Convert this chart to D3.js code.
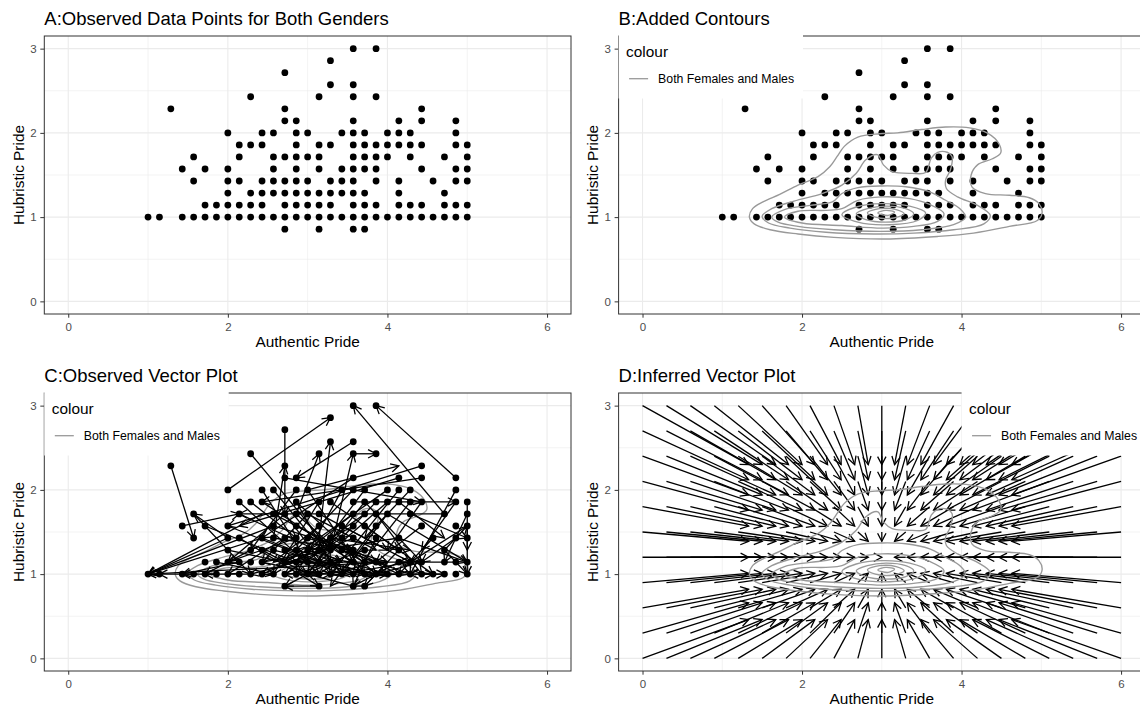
<!DOCTYPE html>
<html lang="en">
<head>
<meta charset="UTF-8">
<title>Authentic and Hubristic Pride - vector plots</title>
<script src="https://d3js.org/d3.v7.min.js"></script>
<style>
  body { margin: 0; background: #fff; }
  svg { display: block; font-family: "Liberation Sans", Arial, sans-serif; }
  .tick text { fill: #4d4d4d; font-size: 11.5px; }
  .tick line { stroke: #333; }
</style>
</head>
<body>
<div id="chart"></div>
<script>
const xTicks = [0, 2, 4, 6], xMinor = [1, 3, 5];
const yTicks = [0, 1, 2, 3], yMinor = [0.5, 1.5, 2.5];
const xLimits = [-0.3, 6.3], yLimits = [-0.15, 3.15];

// observed scores, in sevenths (7-item means): [hubristic, [authentic, ...]]
const pointRows = [
  [21, [25, 27]],
  [20, [23]],
  [19, [19]],
  [18, [23, 25]],
  [17, [16, 22, 25, 27]],
  [16, [9, 19, 31]],
  [15, [19, 20, 25, 29, 31, 34]],
  [14, [14, 17, 18, 20, 21, 24, 25, 26, 28, 29, 30, 34]],
  [13, [15, 16, 17, 20, 22, 23, 25, 26, 27, 28, 29, 30, 31, 34, 35]],
  [12, [11, 15, 18, 19, 20, 21, 22, 25, 26, 27, 28, 30, 33, 35]],
  [11, [10, 12, 14, 18, 20, 22, 24, 25, 26, 27, 31, 34, 35]],
  [10, [11, 14, 15, 17, 18, 19, 20, 21, 23, 24, 25, 27, 29, 32, 34, 35]],
  [9, [14, 16, 17, 18, 19, 20, 21, 22, 23, 24, 25, 26, 29, 33]],
  [8, [12, 13, 14, 15, 16, 17, 19, 20, 21, 22, 23, 25, 26, 27, 29, 30, 31, 33, 34, 35]],
  [7, [7, 8, 10, 11, 12, 13, 14, 15, 16, 17, 18, 19, 20, 21, 22, 23, 24, 25, 26, 27, 28, 29, 30, 31, 32, 33, 34, 35]],
  [6, [19, 22, 25, 26]]
];

// observed change between the two waves, sevenths: [x from, y from, x to, y to]
const moves = [
  [9,16,11,10], [14,14,23,20], [19,19,19,12], [16,17,23,9], [25,18,20,15], [25,17,27,17],
  [34,15,27,21], [33,12,25,21], [20,12,22,17], [23,9,25,17], [33,12,15,12], [31,16,14,11],
  [31,15,17,13], [14,10,7,7], [18,11,7,7], [28,8,7,7], [17,12,7,7], [14,10,11,12],
  [10,11,15,12], [34,14,30,7], [35,13,35,7], [35,11,35,9], [25,13,34,13], [19,15,31,13],
  [18,10,19,16], [25,15,17,10], [29,15,15,11], [34,13,31,9], [35,12,33,8], [33,9,35,11],
  [22,10,23,18], [21,14,29,16], [17,10,7,7],
  [17,14,21,8], [18,14,24,7], [20,14,16,9], [21,14,26,7], [24,14,20,7], [26,14,22,9],
  [28,14,19,8], [29,14,23,7], [30,14,26,10], [25,14,20,9],
  [15,13,22,7], [16,13,20,10], [17,13,25,8], [20,13,27,7], [22,13,18,7], [23,13,29,9],
  [26,13,21,7], [27,13,24,10], [28,13,22,8], [29,13,33,10], [30,13,25,7], [31,13,28,9],
  [20,13,23,8], [26,13,31,8],
  [11,12,16,7], [18,12,26,8], [19,12,23,7], [21,12,17,8], [22,12,30,8], [26,12,20,8],
  [27,12,31,7], [28,12,24,7], [30,12,35,10], [20,12,26,7], [25,12,21,9], [15,12,24,8],
  [19,12,14,8], [28,12,35,8], [21,12,27,9],
  [12,11,20,8], [20,11,29,7], [22,11,18,8], [24,11,21,7], [26,11,32,7], [27,11,23,6],
  [31,11,27,8], [35,11,30,8], [18,11,25,9], [25,11,19,8], [14,11,22,8], [24,11,28,9],
  [15,10,22,6], [17,10,25,7], [19,10,14,7], [21,10,28,8], [24,10,19,7], [27,10,25,6],
  [29,10,35,8], [32,10,29,7], [34,10,31,8], [18,10,25,9], [20,10,14,8], [23,10,27,8],
  [25,10,20,8], [23,10,30,9], [29,10,22,9],
  [16,9,12,7], [18,9,27,7], [20,9,24,8], [22,9,17,7], [24,9,30,7], [26,9,20,7],
  [29,9,26,6], [33,9,35,7], [19,9,24,7], [21,9,28,7], [23,9,17,8], [25,9,22,7],
  [17,9,21,7], [14,9,19,8],
  [13,8,18,7], [15,8,10,7], [17,8,22,7], [19,8,25,8], [21,8,26,7], [23,8,19,6],
  [26,8,30,8], [30,8,24,7], [34,8,29,8], [27,8,23,7], [20,8,16,7], [22,8,27,7],
  [29,8,25,6], [31,8,27,7],
  [11,7,8,7], [13,7,10,7], [16,7,12,7], [20,7,23,7], [22,7,19,7], [25,7,28,7],
  [27,7,32,7], [29,7,26,7], [31,7,33,7], [33,7,30,7],
  [22,6,19,6], [25,6,21,7], [26,6,28,8]
];

// inferred vector field: arrow starts on the grid, heads read per column / per row
const gridX = [0, 0.3, 0.6, 0.9, 1.2, 1.5, 1.8, 2.1, 2.4, 2.7, 3, 3.3, 3.6, 3.9, 4.2, 4.5, 4.8, 5.1, 5.4, 5.7, 6];
const headX = [1.33, 1.5, 1.67, 1.83, 2.0, 2.16, 2.32, 2.49, 2.66, 2.83, 3.0, 3.16, 3.32, 3.49, 3.65, 3.81, 3.98, 4.14, 4.31, 4.47, 4.63];
const gridY = [3, 2.7, 2.4, 2.1, 1.8, 1.5, 1.2, 0.9, 0.6, 0.3, 0];
const headY = [2.3, 2.12, 1.94, 1.76, 1.57, 1.39, 1.2, 1.01, 0.82, 0.66, 0.46];

// density contours (both females and males), traced
const densityContours = [
  [[1.34,1.0],[1.38,1.1],[1.51,1.18],[1.72,1.27],[1.95,1.38],[2.2,1.48],[2.35,1.6],[2.44,1.72],[2.53,1.84],
   [2.7,1.95],[2.97,1.99],[3.2,2.0],[3.5,2.04],[3.8,2.07],[4.1,2.06],[4.32,2.0],[4.47,1.87],[4.49,1.76],
   [4.38,1.69],[4.2,1.62],[4.12,1.5],[4.13,1.36],[4.3,1.28],[4.6,1.26],[4.85,1.23],[4.97,1.16],[5.01,1.05],
   [4.95,0.96],[4.6,0.89],[4.15,0.81],[3.7,0.77],[3.05,0.74],[2.4,0.76],[1.95,0.8],[1.6,0.85],[1.4,0.92]],
  [[1.5,1.01],[1.62,1.1],[1.9,1.19],[2.25,1.28],[2.5,1.38],[2.68,1.52],[2.8,1.68],[2.95,1.74],[3.02,1.62],
   [3.13,1.54],[3.38,1.52],[3.55,1.53],[3.62,1.7],[3.7,1.77],[3.82,1.77],[3.88,1.72],[3.86,1.56],[3.8,1.44],
   [3.81,1.34],[3.95,1.24],[4.2,1.14],[4.36,1.02],[4.28,0.92],[3.9,0.85],[3.4,0.81],[2.9,0.8],[2.3,0.82],
   [1.85,0.87],[1.58,0.93]],
  [[1.62,1.0],[1.78,1.09],[2.1,1.14],[2.38,1.18],[2.5,1.28],[2.7,1.35],[3.0,1.37],[3.3,1.36],[3.6,1.3],
   [3.8,1.2],[3.98,1.1],[4.05,1.0],[3.9,0.91],[3.5,0.85],[3.0,0.83],[2.4,0.85],[1.95,0.89],[1.7,0.94]],
  [[1.78,1.0],[1.95,1.07],[2.3,1.08],[2.5,1.1],[2.7,1.2],[3.0,1.24],[3.35,1.22],[3.6,1.15],[3.78,1.04],
   [3.7,0.95],[3.4,0.89],[3.0,0.87],[2.5,0.9],[2.0,0.93]],
  [[2.5,1.03],[2.68,1.12],[3.0,1.16],[3.35,1.13],[3.55,1.05],[3.45,0.96],[3.1,0.91],[2.7,0.94]],
  [[2.68,1.04],[2.82,1.1],[3.05,1.13],[3.3,1.1],[3.4,1.04],[3.3,0.97],[3.05,0.94],[2.8,0.97]],
  [[2.82,1.05],[2.97,1.1],[3.18,1.09],[3.28,1.04],[3.15,0.99],[2.92,1.0]],
  [[2.95,1.05],[3.05,1.08],[3.16,1.06],[3.08,1.02]]
];

const legendLabel = "Both Females and Males";
const contourColour = "#999999";

const points = pointRows.flatMap(([y7, xs]) => xs.map(x7 => [x7 / 7, y7 / 7]));

const columns = [[44.3, 571], [618.6, 1145]];
const rowsPx = [[36, 314], [393, 671]];

const svg = d3.select("#chart").append("svg")
    .attr("width", 1140)
    .attr("height", 712);

const defs = svg.append("defs");
defs.append("marker")
    .attr("id", "head")
    .attr("viewBox", "-10 -6 12 12")
    .attr("refX", 0).attr("refY", 0)
    .attr("markerWidth", 12).attr("markerHeight", 12)
    .attr("markerUnits", "userSpaceOnUse")
    .attr("orient", "auto")
  .append("path")
    .attr("d", "M-8,-4.2L0,0L-8,4.2")
    .attr("fill", "none")
    .attr("stroke", "#000")
    .attr("stroke-width", 1.3);

function drawPanel(col, row, title) {
    const [x0, x1] = columns[col], [y0, y1] = rowsPx[row];
    const x = d3.scaleLinear().domain(xLimits).range([x0, x1]);
    const y = d3.scaleLinear().domain(yLimits).range([y1, y0]);
    const g = svg.append("g");

    g.append("text")
        .attr("x", x0).attr("y", y0 - 11)
        .attr("font-size", 18.5)
        .text(title);

    const grid = g.append("g").attr("stroke", "#ebebeb");
    grid.selectAll(".xm").data(xMinor).join("line")
        .attr("x1", d => x(d)).attr("x2", d => x(d)).attr("y1", y0).attr("y2", y1)
        .attr("stroke-width", 0.6);
    grid.selectAll(".ym").data(yMinor).join("line")
        .attr("y1", d => y(d)).attr("y2", d => y(d)).attr("x1", x0).attr("x2", x1)
        .attr("stroke-width", 0.6);
    grid.selectAll(".xM").data(xTicks).join("line")
        .attr("x1", d => x(d)).attr("x2", d => x(d)).attr("y1", y0).attr("y2", y1)
        .attr("stroke-width", 1.1);
    grid.selectAll(".yM").data(yTicks).join("line")
        .attr("y1", d => y(d)).attr("y2", d => y(d)).attr("x1", x0).attr("x2", x1)
        .attr("stroke-width", 1.1);

    const marks = g.append("g");

    g.append("rect")
        .attr("x", x0).attr("y", y0)
        .attr("width", x1 - x0).attr("height", y1 - y0)
        .attr("fill", "none")
        .attr("stroke", "#333")
        .attr("stroke-width", 1);

    const ax = g.append("g")
        .attr("transform", `translate(0,${y1})`)
        .call(d3.axisBottom(x).tickValues(xTicks).tickSize(3.7).tickPadding(5).tickFormat(d3.format("d")));
    ax.select(".domain").remove();
    const ay = g.append("g")
        .attr("transform", `translate(${x0},0)`)
        .call(d3.axisLeft(y).tickValues(yTicks).tickSize(4).tickPadding(3.6).tickFormat(d3.format("d")));
    ay.select(".domain").remove();
    g.selectAll(".tick text").attr("font-family", null).attr("font-size", null);

    g.append("text")
        .attr("x", (x0 + x1) / 2).attr("y", y1 + 33)
        .attr("text-anchor", "middle")
        .attr("font-size", 15.4)
        .text("Authentic Pride");
    g.append("text")
        .attr("transform", `translate(${x0 - 20.3},${(y0 + y1) / 2}) rotate(-90)`)
        .attr("text-anchor", "middle")
        .attr("font-size", 15.4)
        .text("Hubristic Pride");

    return { marks, x, y };
}

function drawPoints(p) {
    p.marks.append("g").selectAll("circle").data(points).join("circle")
        .attr("cx", d => p.x(d[0]))
        .attr("cy", d => p.y(d[1]))
        .attr("r", 3.4)
        .attr("fill", "#000");
}

function drawContours(p) {
    const line = d3.line()
        .x(d => p.x(d[0]))
        .y(d => p.y(d[1]))
        .curve(d3.curveCatmullRomClosed.alpha(0.5));
    p.marks.append("g").selectAll("path").data(densityContours).join("path")
        .attr("d", line)
        .attr("fill", "none")
        .attr("stroke", contourColour)
        .attr("stroke-width", 1.35);
}

function drawLegend(left, top) {
    const lg = svg.append("g");
    lg.append("rect")
        .attr("x", left).attr("y", top)
        .attr("width", 184.4).attr("height", 63.5)
        .attr("fill", "#fff");
    lg.append("text")
        .attr("x", left + 7.5).attr("y", top + 21.5)
        .attr("font-size", 15.4)
        .text("colour");
    lg.append("line")
        .attr("x1", left + 10.5).attr("x2", left + 29.5)
        .attr("y1", top + 43.7).attr("y2", top + 43.7)
        .attr("stroke", contourColour)
        .attr("stroke-width", 1.3);
    lg.append("text")
        .attr("x", left + 39.5).attr("y", top + 43.7)
        .attr("dy", "0.35em")
        .attr("font-size", 12.3)
        .text(legendLabel);
}

// A
const pA = drawPanel(0, 0, "A:Observed Data Points for Both Genders");
drawPoints(pA);

// B
const pB = drawPanel(1, 0, "B:Added Contours");
drawPoints(pB);
drawContours(pB);
drawLegend(columns[1][0], rowsPx[0][0] - 1);

// C
const pC = drawPanel(0, 1, "C:Observed Vector Plot");
drawContours(pC);
drawPoints(pC);
pC.marks.append("g").selectAll("line").data(moves).join("line")
    .attr("x1", d => pC.x(d[0] / 7)).attr("y1", d => pC.y(d[1] / 7))
    .attr("x2", d => pC.x(d[2] / 7)).attr("y2", d => pC.y(d[3] / 7))
    .attr("stroke", "#000")
    .attr("stroke-width", 1.3)
    .attr("marker-end", "url(#head)");
drawLegend(columns[0][0], rowsPx[1][0] - 1);

// D
const pD = drawPanel(1, 1, "D:Inferred Vector Plot");
const field = gridY.flatMap((gy, j) => gridX.map((gx, i) => ({ x0: gx, y0: gy, x1: headX[i], y1: headY[j] })));
pD.marks.append("g").selectAll("line").data(field).join("line")
    .attr("x1", d => pD.x(d.x0)).attr("y1", d => pD.y(d.y0))
    .attr("x2", d => pD.x(d.x1)).attr("y2", d => pD.y(d.y1))
    .attr("stroke", "#000")
    .attr("stroke-width", 1.3)
    .attr("marker-end", "url(#head)");
drawContours(pD);
drawLegend(pD.x(4), rowsPx[1][0] - 1);
</script>
</body>
</html>
